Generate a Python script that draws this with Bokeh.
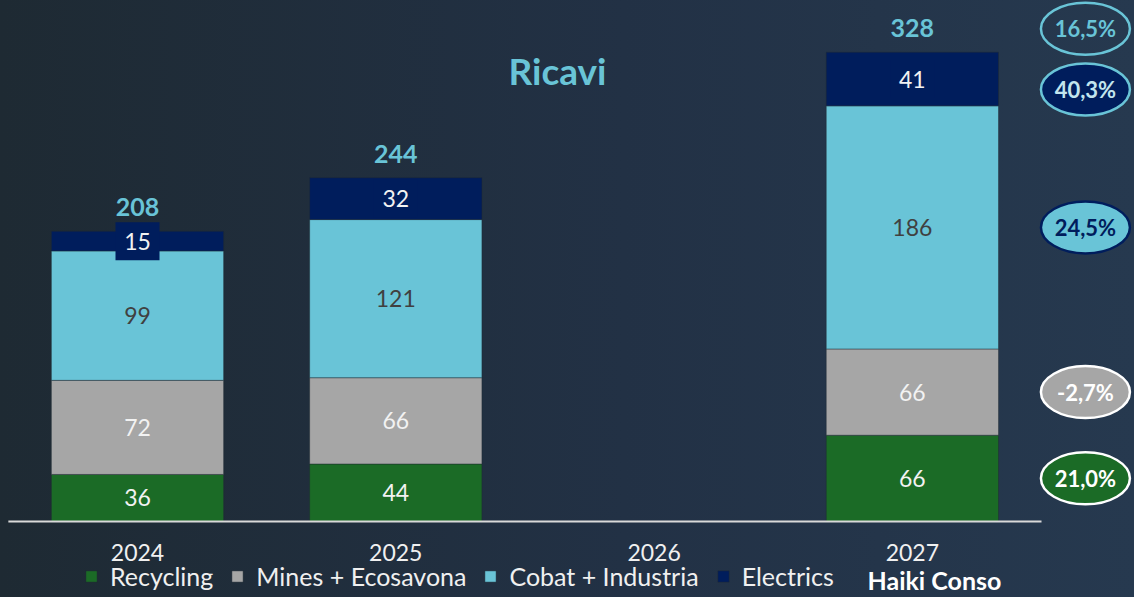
import numpy as np
import pandas as pd
from bokeh.plotting import figure
from bokeh.models import ColumnDataSource, LabelSet, Label, Legend, LegendItem, Range1d
from bokeh.core.properties import value
from bokeh.embed import file_html
from bokeh.resources import INLINE

# ---------------- data ----------------
years = ["2024", "2025", "2026", "2027"]
series = ["Recycling", "Mines + Ecosavona", "Cobat + Industria", "Electrics"]
recycling = [36, 44, np.nan, 66]
mines = [72, 66, np.nan, 66]
cobat = [99, 121, np.nan, 186]
electrics = [15, 32, np.nan, 41]
totals = [208, 244, np.nan, 328]
growth_labels = ["16,5%", "40,3%", "24,5%", "-2,7%", "21,0%"]
conso_label = "Haiki Conso"
title_text = "Ricavi"

# ---------------- styles ----------------
GREEN = "#1b6b26"
GRAY = "#a6a6a6"
CYAN = "#69c4d7"
NAVY = "#001d5c"
colors = [GREEN, GRAY, CYAN, NAVY]
label_colors = ["#f2f2f2", "#f2f2f2", "#404040", "#f2f2f2"]
FONT = "Lato"

values = [recycling, mines, cobat, electrics]
x = list(range(len(years)))
df = pd.DataFrame({"x": x, "year": years})
for name, vals in zip(series, values):
    df[name] = vals

p = figure(width=1134, height=597, x_range=Range1d(-0.5304, 3.860),
           y_range=Range1d(-58.15, 398.6), output_backend="svg",
           toolbar_location=None, x_axis_location=None, y_axis_location=None,
           min_border=0)
p.grid.visible = False
p.outline_line_color = None
p.background_fill_alpha = 0
p.border_fill_alpha = 0
p.styles = {"background": "linear-gradient(90deg, #1e2a33 0%, #223145 55%, #26394f 100%)"}

src = ColumnDataSource(df)
rs = p.vbar_stack(series, x="x", width=0.667, color=colors, source=src,
                  line_color="#1e2a33", line_alpha=0.45, line_width=1)

# baseline
p.segment(x0=[-0.5], y0=[0], x1=[3.5], y1=[0], line_color="#d9d9d9", line_width=2)

# segment labels
bottom = np.zeros(len(years))
mids_2027 = []
for i, (name, vals, lc, fc) in enumerate(zip(series, values, label_colors, colors)):
    v = np.array(vals, dtype=float)
    mid = bottom + v / 2
    d = pd.DataFrame({"x": x, "y": mid, "t": [("" if np.isnan(a) else str(int(a))) for a in v]})
    d = d[~np.isnan(v)]
    mids_2027.append(mid[3])
    lsrc = ColumnDataSource(d)
    if i == len(series) - 1:
        # label box behind thin segment labels
        p.rect(x="x", y="y", width=44, height=38, width_units="screen", height_units="screen",
               fill_color=fc, line_color=None, source=lsrc)
    ls = LabelSet(x="x", y="y", text="t", source=lsrc,
                  text_align="center", text_baseline="middle",
                  text_font=value(FONT), text_font_size="23px", text_color=lc)
    p.add_layout(ls)
    bottom = bottom + v

# totals
tot = np.array(totals, dtype=float)
dt = pd.DataFrame({"x": x, "y": bottom, "t": [("" if np.isnan(a) else str(int(a))) for a in tot]})
dt = dt[~np.isnan(tot)]
p.add_layout(LabelSet(x="x", y="y", text="t", source=ColumnDataSource(dt), y_offset=24,
                      text_align="center", text_baseline="middle", text_font=value(FONT),
                      text_font_style="bold", text_font_size="25px", text_color=CYAN))

# year labels
p.add_layout(LabelSet(x="x", y=0, text="year", source=ColumnDataSource(df[["x", "year"]]),
                      y_offset=-31, text_align="center", text_baseline="middle",
                      text_font=value(FONT), text_font_size="23px", text_color="#f0f0f0"))

# growth ellipses
ell_y = [bottom[3] + 18, mids_2027[3] - 8, mids_2027[2], mids_2027[1], mids_2027[0]]
ell_fill = ["rgba(0,0,0,0)", NAVY, CYAN, GRAY, GREEN]
ell_line = [CYAN, CYAN, NAVY, "#ffffff", "#ffffff"]
ell_text = [CYAN, "#c2e5ee", NAVY, "#ffffff", "#ffffff"]
ell_x = 3.670
esrc = ColumnDataSource(dict(x=[ell_x] * 5, y=ell_y, fill=ell_fill,
                             line=ell_line, tc=ell_text, t=growth_labels))
p.ellipse(x="x", y="y", width=89, height=52, width_units="screen", height_units="screen",
          fill_color="fill", line_color="line", line_width=2.5, source=esrc)
p.text(x="x", y="y", text="t", text_color="tc", source=esrc, text_align="center",
       text_baseline="middle", text_font=value(FONT),
       text_font_style="bold", text_font_size="22px")

# title
p.add_layout(Label(x=557, y=527, x_units="screen", y_units="screen", text=title_text,
                   text_align="center", text_baseline="middle", text_font=FONT,
                   text_font_style="bold", text_font_size="37px", text_color=CYAN))

# legend
legend = Legend(items=[LegendItem(label=s, renderers=[r]) for s, r in zip(series, rs)],
                orientation="horizontal", location=(84, 6), padding=0, margin=0,
                spacing=17, label_standoff=12, glyph_width=14, glyph_height=14,
                label_text_font=FONT, label_text_font_size="25px",
                label_text_color="#f0f0f0", background_fill_alpha=0, border_line_alpha=0)
p.add_layout(legend)
p.add_layout(Label(x=867, y=18, x_units="screen", y_units="screen", text=conso_label,
                   text_baseline="middle", text_font=FONT, text_font_style="bold",
                   text_font_size="25px", text_color="#ffffff"))

open("out.html", "w").write(file_html(p, INLINE))
